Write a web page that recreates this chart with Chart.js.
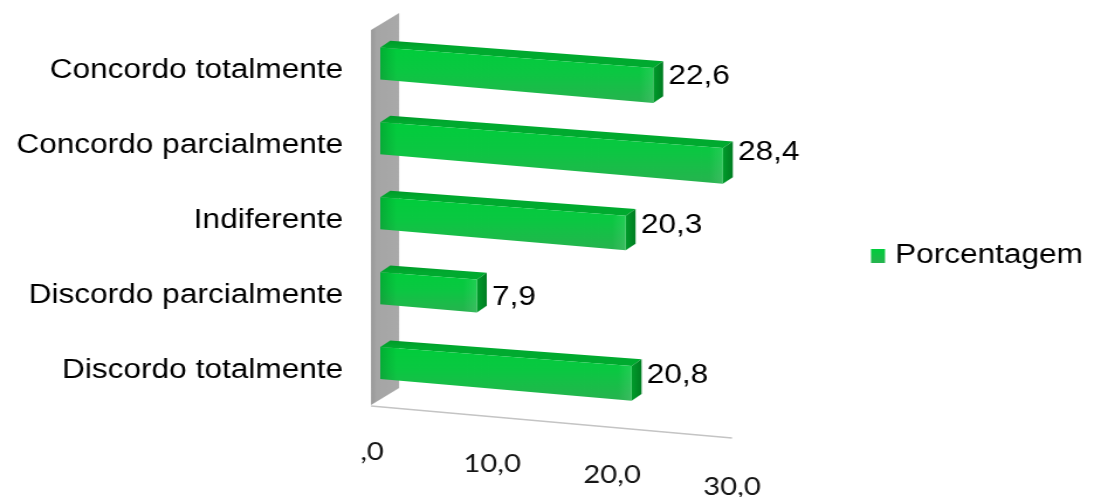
<!DOCTYPE html>
<html>
<head>
<meta charset="utf-8">
<script src="https://cdn.jsdelivr.net/npm/chart.js@4.4.1/dist/chart.umd.min.js"></script>
<style>
  html, body { margin: 0; padding: 0; background: #ffffff; overflow: hidden; }
  canvas { display: block; }
</style>
</head>
<body>
<!-- drawn on a narrower canvas and widened by CSS, which gives the broad lettering -->
<canvas id="c" width="935" height="497" style="width:1094px;height:497px"></canvas>
<script>
// ---- data ----
const categories = [
  'Concordo totalmente',
  'Concordo parcialmente',
  'Indiferente',
  'Discordo parcialmente',
  'Discordo totalmente'
];
const percentages = [22.6, 28.4, 20.3, 7.9, 20.8];
const seriesName = 'Porcentagem';
const axisTicks = [0, 10, 20, 30];
const axisTickLabels = [',0', '10,0', '20,0', '30,0'];

// ---- look ----
const LABEL_FONT = '27px "Liberation Sans", Arial, sans-serif';
const AXIS_FONT = '25px Lato, "Open Sans", sans-serif';
const DEPTH = { dx: 8.5, dy: -6.6 };     // box depth of each bar
const SLOPE_TOP = 0.0878;                // perspective fall of the top edge
const SLOPE_BOTTOM = 0.1006;             // perspective fall of the bottom edge
const LIFT = 7;                          // bars sit a little above the label line

function fmt(v) {
  return v.toFixed(1).replace('.', ',');
}

function barBox(el) {
  const half = el.height / 2;
  const x0 = el.base - 1.5, x1 = el.x, yc = el.y - LIFT;
  const run = x1 - x0;
  return {
    x0, x1,
    tl: yc - half, bl: yc + half,
    tr: yc - half + SLOPE_TOP * run,
    br: yc + half + SLOPE_BOTTOM * run
  };
}

function poly(ctx, pts) {
  ctx.beginPath();
  ctx.moveTo(pts[0][0], pts[0][1]);
  for (let i = 1; i < pts.length; i++) ctx.lineTo(pts[i][0], pts[i][1]);
  ctx.closePath();
}

const scene3d = {
  id: 'scene3d',
  beforeDatasetsDraw(chart) {
    const ctx = chart.ctx;
    const xs = chart.scales.x, ys = chart.scales.y;
    const wx = xs.getPixelForValue(0) - 9.4;
    const wTop = ys.top - 3, wBot = ys.bottom - 2.5;
    const wd = 24, wh = -17;

    ctx.save();
    // floor edge
    const fx1 = xs.getPixelForValue(axisTicks[axisTicks.length - 1]) - 8.6;
    ctx.strokeStyle = '#c4c4c4';
    ctx.lineWidth = 1.3;
    ctx.beginPath();
    ctx.moveTo(wx, wBot + 1);
    ctx.lineTo(fx1, wBot + 33);
    ctx.stroke();

    // side wall
    const g = ctx.createLinearGradient(wx, 0, wx + wd, 0);
    g.addColorStop(0, '#979797');
    g.addColorStop(0.2, '#a5a5a5');
    g.addColorStop(1, '#a9a9a9');
    ctx.fillStyle = g;
    poly(ctx, [[wx, wTop], [wx + wd, wTop + wh], [wx + wd, wBot + wh], [wx, wBot]]);
    ctx.fill();
    ctx.restore();
  },
  beforeDatasetDraw() {
    return false; // bars are drawn as boxes below
  },
  afterDatasetsDraw(chart) {
    const ctx = chart.ctx;
    const xs = chart.scales.x, ys = chart.scales.y;
    const meta = chart.getDatasetMeta(0);
    const values = chart.data.datasets[0].data;
    ctx.save();
    meta.data.forEach((el, i) => {
      const b = barBox(el);
      const { dx, dy } = DEPTH;

      // top face
      const gt = ctx.createLinearGradient(0, b.tl + dy, 0, b.tl);
      gt.addColorStop(0, '#009a29');
      gt.addColorStop(1, '#00aa2f');
      ctx.fillStyle = gt;
      poly(ctx, [[b.x0, b.tl], [b.x1, b.tr], [b.x1 + dx, b.tr + dy], [b.x0 + dx, b.tl + dy]]);
      ctx.fill();

      // end face
      const gs = ctx.createLinearGradient(b.x1, 0, b.x1 + dx, 0);
      gs.addColorStop(0, '#009c2b');
      gs.addColorStop(1, '#007d22');
      ctx.fillStyle = gs;
      poly(ctx, [[b.x1, b.tr], [b.x1 + dx, b.tr + dy], [b.x1 + dx, b.br + dy], [b.x1, b.br]]);
      ctx.fill();

      // front face
      const gf = ctx.createLinearGradient(0, b.tl, 0, b.br);
      gf.addColorStop(0, '#00cd3b');
      gf.addColorStop(0.45, '#0bc742');
      gf.addColorStop(1, '#27b34f');
      ctx.fillStyle = gf;
      poly(ctx, [[b.x0, b.tl], [b.x1, b.tr], [b.x1, b.br], [b.x0, b.bl]]);
      ctx.fill();

      // shading near the wall and a soft light at the far end
      ctx.save();
      poly(ctx, [[b.x0, b.tl], [b.x1, b.tr], [b.x1, b.br], [b.x0, b.bl]]);
      ctx.clip();
      const gl = ctx.createLinearGradient(b.x0, 0, b.x0 + 14, 0);
      gl.addColorStop(0, 'rgba(0,70,20,0.22)');
      gl.addColorStop(1, 'rgba(0,70,20,0)');
      ctx.fillStyle = gl;
      ctx.fillRect(b.x0, b.tl - 5, 14, b.br - b.tl + 40);
      const gr = ctx.createLinearGradient(b.x1 - 12, 0, b.x1, 0);
      gr.addColorStop(0, 'rgba(255,255,255,0)');
      gr.addColorStop(1, 'rgba(255,255,255,0.10)');
      ctx.fillStyle = gr;
      ctx.fillRect(b.x1 - 12, b.tr - 5, 12, b.br - b.tr + 10);
      ctx.restore();

      // value label
      const lx = b.x1 + 13;
      const ly = el.y + 0.025 * (lx - b.x0);
      ctx.font = LABEL_FONT;
      ctx.fillStyle = '#000000';
      ctx.textAlign = 'left';
      ctx.textBaseline = 'middle';
      ctx.fillText(fmt(values[i]), lx, ly);
    });

    // value axis labels, following the slanted floor
    const p0 = xs.getPixelForValue(axisTicks[0]);
    const pN = xs.getPixelForValue(axisTicks[axisTicks.length - 1]);
    ctx.font = AXIS_FONT;
    ctx.fillStyle = '#161616';
    ctx.textAlign = 'center';
    ctx.textBaseline = 'middle';
    axisTicks.forEach((v, i) => {
      const px = xs.getPixelForValue(v);
      const y = ys.bottom + 44.5 + 35 * (px - p0) / (pN - p0);
      ctx.fillText(axisTickLabels[i], px - 8.5, y);
    });

    // legend
    const lgx = xs.right + 110.2;
    const lgy = chart.height / 2 + 7.5;
    const gk = ctx.createLinearGradient(0, lgy - 7, 0, lgy + 7);
    gk.addColorStop(0, '#00cd3b');
    gk.addColorStop(1, '#27b34f');
    ctx.fillStyle = gk;
    ctx.fillRect(lgx, lgy - 7, 12, 14);
    ctx.font = LABEL_FONT;
    ctx.fillStyle = '#000000';
    ctx.textAlign = 'left';
    ctx.textBaseline = 'middle';
    ctx.fillText(chart.data.datasets[0].label, lgx + 20.6, lgy);
    ctx.restore();
  }
};

new Chart(document.getElementById('c'), {
  type: 'bar',
  data: {
    labels: categories,
    datasets: [{
      label: seriesName,
      data: percentages,
      backgroundColor: '#0bc742',
      categoryPercentage: 1,
      barPercentage: 0.427
    }]
  },
  options: {
    indexAxis: 'y',
    responsive: false,
    devicePixelRatio: 1,
    animation: false,
    events: [],
    layout: { padding: { left: 0, right: 300.8, top: 33, bottom: 89.5 } },
    plugins: { legend: { display: false }, tooltip: { enabled: false }, title: { display: false } },
    scales: {
      x: {
        min: 0, max: 30,
        ticks: { display: false, stepSize: 10 },
        grid: { display: false, drawTicks: false, tickLength: 0 },
        border: { display: false }
      },
      y: {
        ticks: { color: '#000000', font: { family: '"Liberation Sans", Arial, sans-serif', size: 27 }, padding: 33.3 },
        grid: { display: false, drawTicks: false, tickLength: 0 },
        border: { display: false },
        afterFit(scale) {
          scale.width = 326.5;
          scale.paddingTop = 0;
          scale.paddingBottom = 0;
        }
      }
    }
  },
  plugins: [scene3d]
});
</script>
</body>
</html>
